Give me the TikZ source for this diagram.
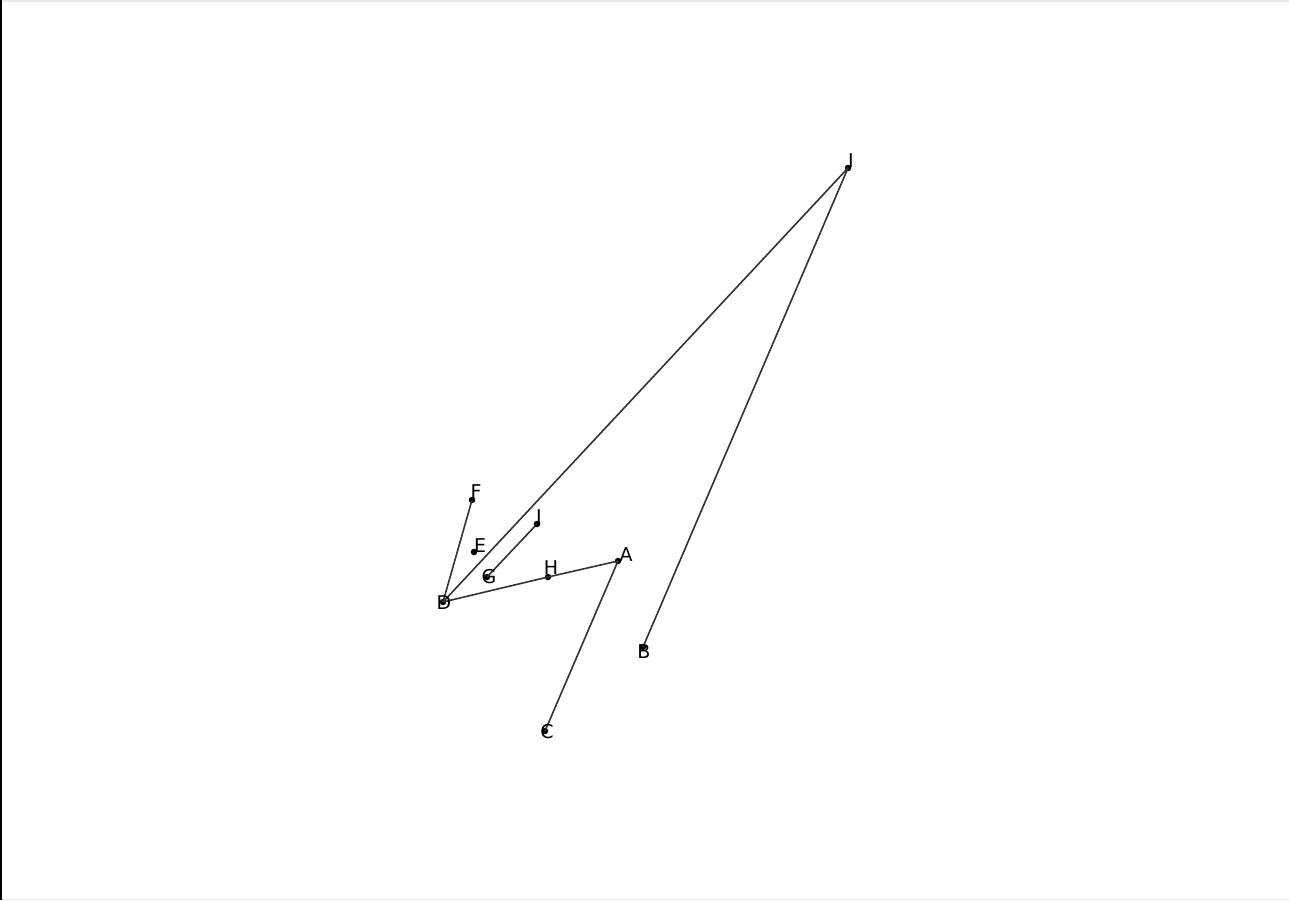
\documentclass[tikz,border=0pt]{standalone}
\usepackage{fontspec}
\setmainfont{DejaVu Sans}
\begin{document}
\begin{tikzpicture}[x=1pt,y=-1pt,
  pt/.style={circle,fill=black,inner sep=0pt,minimum size=6.5pt},
  lbl/.style={inner sep=0pt,anchor=center,font=\fontsize{19}{19}\selectfont},
  edge/.style={draw=black!80,line width=1.6pt}]
\useasboundingbox (0,0) rectangle (1289,900);
\draw[black!8,line width=1.5pt] (0,0.75) -- (1289,0.75);
\draw[black!8,line width=1.5pt] (0,899.25) -- (1289,899.25);
\draw[black,line width=2pt] (1,0) -- (1,900);
% points
\node[pt] (A) at (618,561) {};
\node[pt] (B) at (643,647) {};
\node[pt] (C) at (545,731) {};
\node[pt] (D) at (443,602) {};
\node[pt] (E) at (474,552) {};
\node[pt] (F) at (472,500) {};
\node[pt] (G) at (487,577) {};
\node[pt] (H) at (548,577) {};
\node[pt] (I) at (848,168) {};
\node[pt] (J) at (537,524) {};
% edges
\draw[edge] (D.center) -- (F.center);
\draw[edge] (D.center) -- (I.center);
\draw[edge] (I.center) -- (B.center);
\draw[edge] (G.center) -- (J.center);
\draw[edge] (D.center) -- (H.center);
\draw[edge] (H.center) -- (A.center);
\draw[edge] (A.center) -- (C.center);
% labels
\node[lbl] (lA) at (626,555) {A};
\node[lbl] (lB) at (644,652) {B};
\node[lbl] (lC) at (547,732) {C};
\node[lbl] (lD) at (444,603) {D};
\node[lbl] (lE) at (480,546) {E};
\node[lbl] (lF) at (476,492) {F};
\node[lbl] (lG) at (489,577) {G};
\node[lbl] (lH) at (551,568) {H};
\node[lbl] (lI) at (851,161) {I};
\node[lbl] (lJ) at (539,518) {J};
\end{tikzpicture}
\end{document}
